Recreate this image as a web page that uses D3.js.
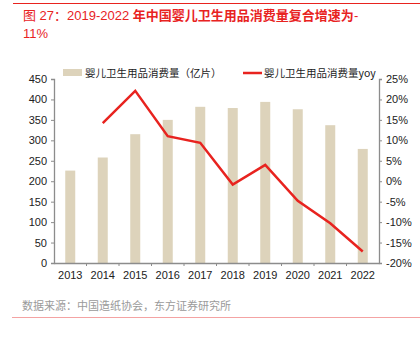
<!DOCTYPE html>
<html>
<head>
<meta charset="utf-8">
<script src="https://cdn.jsdelivr.net/npm/d3@7"></script>
<style>
  body { margin: 0; background: #fff; }
  svg { font-family: "Liberation Sans", Arial, "Noto Sans CJK SC", sans-serif; }
</style>
</head>
<body>
<div id="chart"></div>
<script>
// data
const years = ['2013', '2014', '2015', '2016', '2017', '2018', '2019', '2020', '2021', '2022'];
const volume = [226, 258, 315, 350, 382, 379, 394, 376, 337, 279];
const yoy = [null, 14.2, 22.1, 11.0, 9.4, -0.8, 4.0, -4.8, -10.3, -17.2];
const leftTicks = [0, 50, 100, 150, 200, 250, 300, 350, 400, 450];
const rightTicks = [-20, -15, -10, -5, 0, 5, 10, 15, 20, 25];

const width = 420, height = 337;
const m = {left: 54, right: 379, top: 79, bottom: 263};
const red = '#e8231f';
const axisColor = '#8c8c8c';

const svg = d3.select('#chart').append('svg')
    .attr('width', width)
    .attr('height', height);

// header line + title
svg.append('line')
    .attr('x1', 13).attr('x2', 420).attr('y1', 3.5).attr('y2', 3.5)
    .attr('stroke', red).attr('stroke-width', 1);

const title = svg.append('text')
    .attr('x', 23).attr('y', 20)
    .attr('fill', red)
    .style('font-size', '13px');
title.append('tspan').text('图 27：2019-2022 ');
title.append('tspan').style('font-weight', 'bold')
    .style('font-family', '"Noto Sans CJK SC", sans-serif')
    .text('年中国婴儿卫生用品消费量复合增速为');
title.append('tspan').text('-');
svg.append('text')
    .attr('x', 23).attr('y', 38)
    .attr('fill', red)
    .style('font-size', '13px')
    .text('11%');

// scales
const x = d3.scaleBand().domain(years).range([m.left, m.right]);
const yL = d3.scaleLinear().domain([0, 450]).range([m.bottom, m.top]);
const yR = d3.scaleLinear().domain([-20, 25]).range([m.bottom, m.top]);

// bars
svg.selectAll('rect.bar')
    .data(volume)
    .enter()
    .append('rect')
        .attr('class', 'bar')
        .attr('x', (d, i) => x(years[i]) + x.bandwidth() / 2 - 5)
        .attr('width', 10)
        .attr('y', d => yL(d))
        .attr('height', d => yL(0) - yL(d))
        .attr('fill', '#ddd3bb');

// axes
const styleAxis = (g) => {
    g.select('.domain').attr('stroke', axisColor).attr('stroke-width', 1.3);
    g.selectAll('.tick line').attr('stroke', axisColor);
    g.selectAll('.tick text')
        .attr('fill', '#222')
        .style('font-size', '11px')
        .style('font-family', '"Liberation Sans", Arial, sans-serif');
};

svg.append('g')
    .attr('transform', `translate(${m.left},0)`)
    .call(d3.axisLeft(yL).tickValues(leftTicks).tickSize(3).tickPadding(4).tickSizeOuter(3))
    .call(styleAxis);

svg.append('g')
    .attr('transform', `translate(${m.right},0)`)
    .call(d3.axisRight(yR).tickValues(rightTicks).tickSize(3).tickPadding(4)
        .tickFormat(d => d + '%').tickSizeOuter(3))
    .call(styleAxis);

const xAxis = svg.append('g')
    .attr('transform', `translate(0,${m.bottom})`)
    .call(d3.axisBottom(x).tickSize(0).tickPadding(8).tickSizeOuter(0))
    .call(styleAxis);

// category divider ticks on x axis
xAxis.selectAll('line.div')
    .data(years.slice(1))
    .enter()
    .append('line')
        .attr('class', 'div')
        .attr('x1', d => x(d)).attr('x2', d => x(d))
        .attr('y1', 0).attr('y2', 3)
        .attr('stroke', axisColor);

// yoy line
const line = d3.line()
    .defined(d => d != null)
    .x((d, i) => x(years[i]) + x.bandwidth() / 2)
    .y(d => yR(d));

svg.append('path')
    .datum(yoy)
    .attr('d', line)
    .attr('fill', 'none')
    .attr('stroke', red)
    .attr('stroke-width', 2.5);

// legend
const legend = svg.append('g').style('font-size', '10.5px')
    .style('font-family', '"Noto Sans CJK SC", sans-serif');
legend.append('rect')
    .attr('x', 63).attr('y', 69).attr('width', 19).attr('height', 7)
    .attr('fill', '#ddd3bb');
legend.append('text')
    .attr('x', 85).attr('y', 77)
    .attr('fill', '#222')
    .text('婴儿卫生用品消费量（亿片）');
legend.append('line')
    .attr('x1', 243).attr('x2', 262).attr('y1', 73).attr('y2', 73)
    .attr('stroke', red).attr('stroke-width', 2.5);
legend.append('text')
    .attr('x', 264).attr('y', 77)
    .attr('fill', '#222')
    .text('婴儿卫生用品消费量yoy');

// source + footer line
svg.append('text')
    .attr('x', 22).attr('y', 310)
    .attr('fill', '#9a9a9a')
    .style('font-size', '11px')
    .style('font-family', '"Noto Sans CJK SC", sans-serif')
    .text('数据来源：中国造纸协会，东方证券研究所');

svg.append('line')
    .attr('x1', 12).attr('x2', 420).attr('y1', 317.5).attr('y2', 317.5)
    .attr('stroke', '#f4a3a3').attr('stroke-width', 1.2);
</script>
</body>
</html>
